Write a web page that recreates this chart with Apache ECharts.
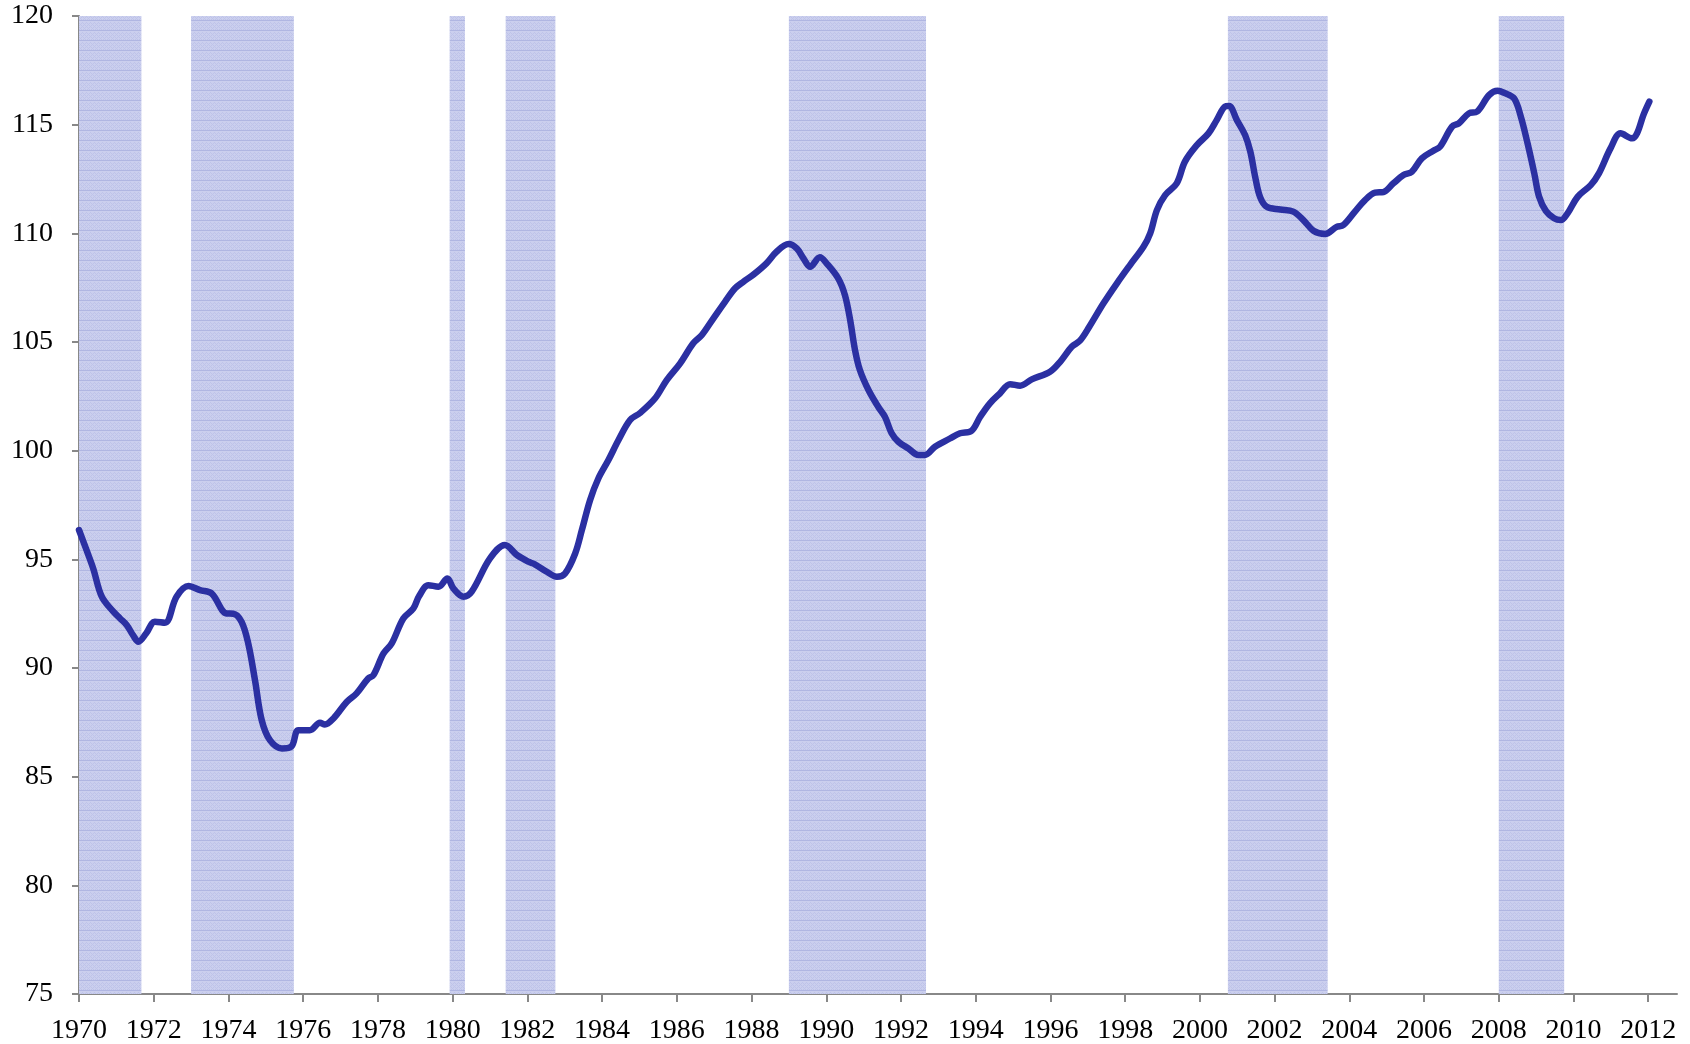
<!DOCTYPE html>
<html>
<head>
<meta charset="utf-8">
<script src="https://cdn.jsdelivr.net/npm/echarts@6/dist/echarts.min.js"></script>
<style>
html,body{margin:0;padding:0;background:#fff;}
#chart{width:1690px;height:1044px;}
</style>
</head>
<body>
<div id="chart"></div>
<script>
// ---- data ----
var years = [1970.0,1970.2,1970.38,1970.61,1970.92,1971.1,1971.28,1971.45,1971.59,1971.8,1972.03,1972.3,1972.61,1972.93,1973.24,1973.55,1973.95,1974.13,1974.35,1974.53,1974.71,1974.89,1975.11,1975.43,1975.69,1975.87,1976.18,1976.45,1976.58,1976.81,1977.17,1977.43,1977.74,1977.88,1978.15,1978.37,1978.68,1978.95,1979.1,1979.35,1979.62,1979.86,1980.02,1980.29,1980.51,1981.0,1981.4,1981.72,1982.03,1982.2,1982.52,1982.79,1983.01,1983.28,1983.46,1983.68,1983.9,1984.17,1984.44,1984.75,1985.02,1985.42,1985.73,1986.09,1986.44,1986.67,1986.98,1987.29,1987.56,1987.78,1988.05,1988.4,1988.67,1988.99,1989.21,1989.39,1989.57,1989.83,1990.01,1990.32,1990.5,1990.64,1990.77,1990.9,1991.13,1991.39,1991.57,1991.75,1991.93,1992.2,1992.47,1992.64,1992.91,1993.31,1993.58,1993.89,1994.12,1994.38,1994.65,1994.92,1995.19,1995.5,1995.99,1996.26,1996.57,1996.79,1997.04,1997.42,1997.78,1998.13,1998.49,1998.67,1998.85,1999.07,1999.38,1999.6,1999.92,2000.23,2000.45,2000.67,2000.78,2000.99,2001.21,2001.35,2001.48,2001.61,2001.79,2002.15,2002.5,2002.77,2003.04,2003.35,2003.66,2003.84,2004.15,2004.42,2004.69,2004.91,2005.18,2005.45,2005.67,2005.94,2006.25,2006.43,2006.75,2006.93,2007.2,2007.42,2007.74,2007.97,2008.14,2008.41,2008.59,2008.77,2008.95,2009.08,2009.26,2009.48,2009.66,2009.84,2010.11,2010.46,2010.68,2010.99,2011.26,2011.57,2011.7,2011.87,2012.03];
var values = [96.35,95.43,94.58,93.28,92.59,92.28,91.97,91.5,91.21,91.6,92.13,92.08,93.28,93.77,93.58,93.43,92.51,92.5,92.13,91.13,89.44,87.6,86.68,86.3,86.4,87.14,87.14,87.48,87.4,87.68,88.45,88.83,89.52,89.67,90.67,91.13,92.28,92.74,93.3,93.81,93.74,94.12,93.66,93.28,93.51,95.04,95.66,95.2,94.89,94.77,94.43,94.2,94.35,95.27,96.35,97.73,98.72,99.57,100.49,101.41,101.74,102.41,103.25,104.02,104.94,105.32,106.09,106.85,107.47,107.77,108.1,108.62,109.15,109.51,109.31,108.85,108.46,108.9,108.62,107.93,107.16,106.01,104.63,103.71,102.79,102.02,101.56,100.8,100.41,100.1,99.8,99.8,100.18,100.56,100.8,100.92,101.56,102.18,102.64,103.06,102.99,103.28,103.63,104.09,104.78,105.06,105.7,106.78,107.7,108.54,109.38,110.0,111.07,111.76,112.3,113.3,114.06,114.6,115.21,115.83,115.86,115.21,114.52,113.76,112.6,111.68,111.22,111.1,111.0,110.61,110.12,109.97,110.3,110.38,111.0,111.53,111.87,111.9,112.3,112.68,112.83,113.45,113.8,113.99,114.91,115.06,115.52,115.6,116.36,116.56,116.47,116.21,115.37,114.14,112.76,111.68,111.03,110.69,110.61,110.92,111.68,112.22,112.76,113.91,114.6,114.37,114.6,115.44,116.06];
var recessionStart = [1970.0, 1973.0, 1979.92, 1981.42, 1989.0, 2000.75, 2008.0];
var recessionEnd   = [1971.67, 1975.75, 1980.33, 1982.75, 1992.67, 2003.42, 2009.75];
var xTickLabels = [1970,1972,1974,1976,1978,1980,1982,1984,1986,1988,1990,1992,1994,1996,1998,2000,2002,2004,2006,2008,2010,2012];
var yTickLabels = [75,80,85,90,95,100,105,110,115,120];

// ---- pattern for shaded bands ----
function makePattern(){
  var c = document.createElement('canvas');
  c.width = 8; c.height = 10;
  var g = c.getContext('2d');
  g.fillStyle = '#cbcfee';
  g.fillRect(0,0,8,10);
  g.fillStyle = '#bec3e9';
  for (var y=2;y<10;y++){
    for (var x=0;x<8;x++){
      if ((x+y)%2===0 && ((x+y)%4===0 || (x-y+8)%4===0)) g.fillRect(x,y,1,1);
    }
  }
  g.fillStyle = '#b0b6e2';
  g.fillRect(0,0,8,1);
  return c;
}
var pat = {image: makePattern(), repeat: 'repeat'};

var lineData = years.map(function(y,i){ return [y, values[i]]; });
var areas = recessionStart.map(function(s,i){ return [{xAxis: s}, {xAxis: recessionEnd[i]}]; });

var font = '"Liberation Serif", "DejaVu Serif", serif';
var chart = echarts.init(document.getElementById('chart'), null, {renderer:'canvas'});
chart.setOption({
  animation: false,
  backgroundColor: '#ffffff',
  grid: {left: 79, right: 13, top: 16, bottom: 50, containLabel: false, outerBoundsMode: 'none'},
  xAxis: {
    type: 'value', min: 1970, max: 2012.77,
    axisLine: {show: true, lineStyle: {color: '#888888', width: 2}},
    axisTick: {show: true, length: 8, lineStyle: {color: '#888888', width: 2}, customValues: xTickLabels},
    axisLabel: {customValues: xTickLabels, color: '#000', fontFamily: font, fontSize: 28, margin: 23,
      formatter: function(v){ return String(Math.round(v)); }},
    splitLine: {show: false}
  },
  yAxis: {
    type: 'value', min: 75, max: 120, interval: 5,
    axisLine: {show: true, lineStyle: {color: '#888888', width: 2}},
    axisTick: {show: true, length: 7, lineStyle: {color: '#888888', width: 2}, customValues: yTickLabels},
    axisLabel: {customValues: yTickLabels, color: '#000', fontFamily: font, fontSize: 28, margin: 26},
    splitLine: {show: false}
  },
  series: [
    {
      type: 'line', data: [], z: 1, silent: true,
      markArea: {silent: true, itemStyle: {color: pat, borderWidth: 0}, data: areas}
    },
    {
      type: 'line', data: lineData, z: 3, showSymbol: false, symbol: 'none',
      smooth: 0.35,
      lineStyle: {color: '#2b30a2', width: 6.5, cap: 'round', join: 'round'}
    }
  ]
});
</script>
</body>
</html>
